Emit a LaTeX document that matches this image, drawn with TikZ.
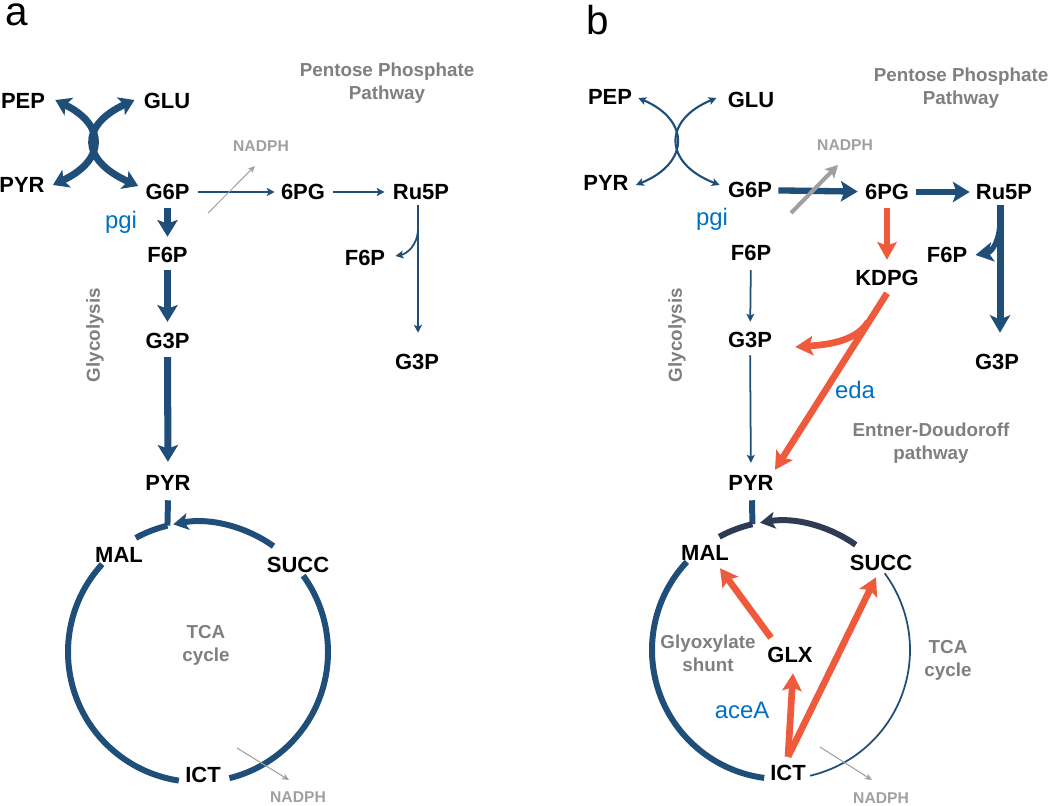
\documentclass[tikz,border=0pt]{standalone}
\usepackage{fontspec}
\setmainfont{Liberation Sans}
\usetikzlibrary{arrows.meta,calc}
\definecolor{dblue}{HTML}{1F4E79}
\definecolor{dslate}{HTML}{2E3B52}
\definecolor{ored}{HTML}{EF5A3D}
\definecolor{lblue}{HTML}{0070C0}
\definecolor{tgray}{HTML}{7F7F7F}
\definecolor{ngray}{HTML}{A0A0A0}
\begin{document}
\begin{tikzpicture}[x=0.02cm,y=-0.02cm,
 met/.style={font=\fontsize{12.5}{14}\selectfont\bfseries, inner sep=0pt, text height=9pt, text depth=0pt},
 lab/.style={font=\fontsize{10.7}{13}\selectfont\bfseries, text=tgray, align=center, inner sep=0pt},
 enz/.style={font=\fontsize{13.6}{16}\selectfont, text=lblue, inner sep=0pt, anchor=base},
 nad/.style={font=\fontsize{8.9}{10}\selectfont\bfseries, text=ngray, inner sep=0pt, text height=6.4pt, text depth=0pt},
 panel/.style={font=\fontsize{23}{27}\selectfont, inner sep=0pt, anchor=base},
 thinarr/.style={draw=dblue, line width=1pt, -{Stealth[length=4.5pt,width=4.5pt,inset=1pt]}},
 thickarr/.style={draw=dblue, line width=3.6pt, -{Stealth[length=9.5pt,width=11.5pt,inset=2pt]}},
 redarr/.style={draw=ored, line width=3.8pt, -{Stealth[length=10pt,width=11pt,inset=2pt]}},
 crossA/.style={draw=dblue, line width=4pt, {Stealth[length=8.5pt,width=11pt,inset=2pt]}-{Stealth[length=8.5pt,width=11pt,inset=2pt]}},
 crossB/.style={draw=dblue, line width=1.2pt, {Stealth[length=4.5pt,width=4.5pt,inset=1pt]}-{Stealth[length=4.5pt,width=4.5pt,inset=1pt]}},
 nadthin/.style={draw=ngray, line width=0.6pt, -{Stealth[length=4pt,width=3.5pt,inset=1pt]}},
 nadthick/.style={draw=ngray, line width=2.3pt, -{Stealth[length=7pt,width=7.5pt,inset=1.5pt]}},
 tcathick/.style={draw=dblue, line width=3.4pt},
 tcadark/.style={draw=dslate, line width=3.4pt},
 tcathin/.style={draw=dblue, line width=1pt},
 tcahead/.style={-{Stealth[length=8.5pt,width=9.5pt,inset=2pt]}}
]
\useasboundingbox (0,0) rectangle (1050,805);

% ================= panel a =================
\node[panel] (lbla) at (17,25) {a};
\node[met] (PEPa) at (23,101) {PEP};
\node[met] (GLUa) at (167,101) {GLU};
\node[met] (PYRa) at (22,185) {PYR};
\node[met] (G6Pa) at (167.5,192) {G6P};
\node[met] (PGsixA) at (303,192) {6PG};
\node[met] (Ru5Pa) at (421,192) {Ru5P};
\node[met] (F6Pa) at (167.5,255) {F6P};
\node[met] (F6Par) at (365,258) {F6P};
\node[met] (G3Pa) at (167.5,341) {G3P};
\node[met] (G3Par) at (417,362) {G3P};
\node[met] (PYRa2) at (168,483) {PYR};
\node[met] (MALa) at (119,555) {MAL};
\node[met] (SUCCa) at (298,565) {SUCC};
\node[met] (ICTa) at (203,775) {ICT};
\node[enz] (pgia) at (121,228) {pgi};
\node[nad] (NADPHa) at (261,146) {NADPH};
\node[nad] (NADPHa2) at (298,797) {NADPH};
\node[lab] (PPPa) at (387,83) {Pentose Phosphate\\Pathway};
\node[lab, rotate=90] (Glya) at (95,335) {Glycolysis};
\node[lab] (TCAa) at (206,645) {TCA\\cycle};

\draw[crossA] ($(PEPa.east)+(10,-1)$) .. controls (106,125) and (106,160) .. ($(PYRa.east)+(8,0)$);
\draw[crossA] ($(GLUa.west)+(-9,-1)$) .. controls (80,125) and (80,160) .. ($(G6Pa.west)+(-7,-6)$);

\draw[thickarr, shorten <=4.5pt, shorten >=5.7pt] (G6Pa) -- (F6Pa);
\draw[thickarr, line width=4.2pt, shorten <=4pt, shorten >=6.2pt] (F6Pa) -- (G3Pa);
\draw[thickarr, line width=4pt, shorten <=4.5pt, shorten >=7.4pt] (G3Pa) -- (PYRa2);
\draw[thinarr, shorten <=4.5pt, shorten >=3.4pt] (G6Pa) -- (PGsixA);
\draw[thinarr, shorten <=4.5pt, shorten >=4.5pt] (PGsixA) -- (Ru5Pa);
\coordinate (nadtailA) at (208,213);
\draw[nadthin] (nadtailA) -- ($(NADPHa.south)+(-6,14)$);

\coordinate (brA) at (418,228);
\draw[thinarr] ($(Ru5Pa.south)+(-3,5)$) -- ($(G3Par.north)+(1,-21)$);
\draw[thinarr] (brA) .. controls (418,246) and (406,254) .. ($(F6Par.east)+(10,-2)$);

\coordinate (Ca) at (198,652);
\draw[tcathick] ($(PYRa2.south)+(0,9)$) -- ($(Ca)+(-103.6:130)$);
\draw[tcathick] ($(Ca)+(-118.6:130)$) arc[start angle=-118.6, end angle=-103.6, radius=130];
\draw[tcathick, tcahead] ($(Ca)+(-54.5:130)$) arc[start angle=-54.5, end angle=-101, radius=130];
\draw[tcathick] ($(Ca)+(-137.5:130)$) arc[start angle=-137.5, end angle=-261.5, radius=130];
\draw[tcathick] ($(Ca)+(-36:130)$) arc[start angle=-36, end angle=76, radius=130];
\coordinate (nadtailA2) at (237,748);
\draw[nadthin] (nadtailA2) -- ($(NADPHa2.north)+(-9,-11)$);

% ================= panel b =================
\node[panel] (lblb) at (598,34) {b};
\node[met] (PEPb) at (610,97) {PEP};
\node[met] (GLUb) at (751,100) {GLU};
\node[met] (PYRb) at (606,183) {PYR};
\node[met] (G6Pb) at (750,190) {G6P};
\node[met] (PGsixB) at (887,192) {6PG};
\node[met] (Ru5Pb) at (1004,192) {Ru5P};
\node[met] (F6Pb) at (751,253) {F6P};
\node[met] (KDPG) at (887,278) {KDPG};
\node[met] (F6Pbr) at (947,255) {F6P};
\node[met] (G3Pb) at (750,340) {G3P};
\node[met] (G3Pbr) at (997,362) {G3P};
\node[met] (PYRb2) at (751,483) {PYR};
\node[met] (MALb) at (705,553) {MAL};
\node[met] (SUCCb) at (881,563) {SUCC};
\node[met] (ICTb) at (788,773) {ICT};
\node[met] (GLX) at (790,655) {GLX};
\node[enz] (pgib) at (712,225) {pgi};
\node[enz] (eda) at (855,398) {eda};
\node[enz] (aceA) at (742,718) {aceA};
\node[nad] (NADPHb) at (845,145) {NADPH};
\node[nad] (NADPHb2) at (881,798) {NADPH};
\node[lab] (PPPb) at (961,88) {Pentose Phosphate\\Pathway};
\node[lab] (EDb) at (931,443) {Entner-Doudoroff\\pathway};
\node[lab, rotate=90] (Glyb) at (677,335) {Glycolysis};
\node[lab] (GSb) at (708,653) {Glyoxylate\\shunt};
\node[lab] (TCAb) at (948,660) {TCA\\cycle};

\draw[crossB] ($(PEPb.east)+(6,1)$) .. controls (690,120) and (690,163) .. ($(PYRb.east)+(7,2)$);
\draw[crossB] ($(GLUb.west)+(-11,-2)$) .. controls (663,120) and (663,163) .. ($(G6Pb.west)+(-8,-5)$);

\draw[thickarr, shorten <=3.4pt, shorten >=4pt] (G6Pb) -- (PGsixB);
\draw[thickarr, shorten <=4pt, shorten >=3.4pt] (PGsixB) -- (Ru5Pb);
\coordinate (nadtailB) at (791,213);
\draw[nadthick] (nadtailB) -- ($(NADPHb.south)+(-7,14)$);
\draw[redarr, shorten <=4.5pt, shorten >=5.7pt] (PGsixB) -- (KDPG);
\draw[thinarr, shorten <=5.1pt, shorten >=5.7pt] (F6Pb) -- (G3Pb);
\draw[thinarr, shorten <=4pt, shorten >=6.8pt] (G3Pb) -- (PYRb2);
\draw[redarr] ($(KDPG.south)+(0,7)$) -- ($(PYRb2.north)+(24,-5)$);
\coordinate (brR) at (868,322);
\draw[redarr] (brR) .. controls (855,343) and (822,345) .. ($(G3Pb.east)+(23,7)$);

\coordinate (brB) at (1000,220);
\draw[thickarr, line width=4pt, -{Stealth[length=10pt,width=11.5pt,inset=2.5pt]}] ($(Ru5Pb.south)+(-4,5)$) -- ($(G3Pbr.north)+(3,-21)$);
\draw[thickarr, line width=3pt, -{Stealth[length=10pt,width=11pt,inset=2.5pt]}] (brB) .. controls (1000,240) and (992,252) .. ($(F6Pbr.east)+(8,0)$);

\coordinate (Cb) at (781,650);
\draw[tcathick] ($(PYRb2.south)+(1,9)$) -- ($(Cb)+(-102.8:129)$);
\draw[tcadark] ($(Cb)+(-118.6:129)$) arc[start angle=-118.6, end angle=-102.8, radius=129];
\draw[tcadark, tcahead] ($(Cb)+(-54.6:129)$) arc[start angle=-54.6, end angle=-99.4, radius=129];
\draw[tcathick] ($(Cb)+(-136.9:129)$) arc[start angle=-136.9, end angle=-262.5, radius=129];
\draw[tcathin] ($(Cb)+(-36.5:129)$) arc[start angle=-36.5, end angle=77, radius=129];

\draw[redarr] ($(ICTb.north)+(0,-8)$) -- ($(GLX.south)+(3,10)$);
\draw[redarr] ($(ICTb.north)+(0,-8)$) -- ($(SUCCb.south)+(-5,6)$);
\draw[redarr] ($(GLX.north)+(-19,-9)$) -- ($(MALb.south)+(15,7)$);
\coordinate (nadtailB2) at (820,747);
\draw[nadthin] (nadtailB2) -- ($(NADPHb2.north)+(-9,-12)$);
\end{tikzpicture}
\end{document}
